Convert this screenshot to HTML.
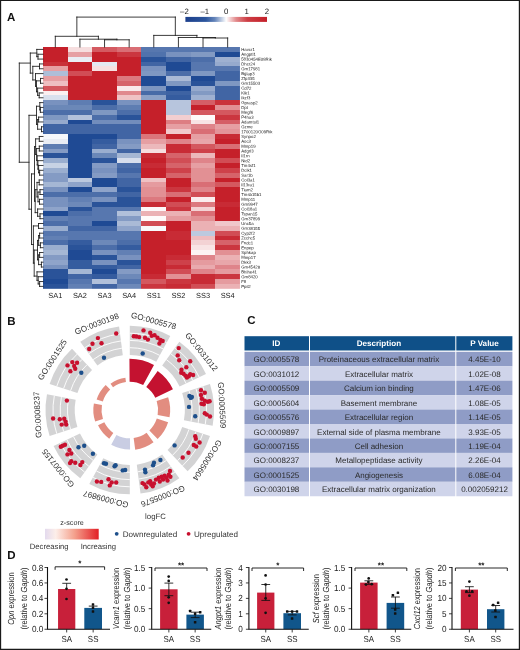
<!DOCTYPE html>
<html lang="en"><head><meta charset="utf-8"><title>Figure</title>
<style>
html,body{margin:0;padding:0;background:#fff;}
body{width:520px;height:650px;overflow:hidden;font-family:"Liberation Sans", sans-serif;}
svg{display:block}
text{white-space:pre;text-rendering:geometricPrecision}
</style></head><body>
<svg width="520" height="650" viewBox="0 0 520 650">
<rect width="520" height="650" fill="#fff"/>
<g shape-rendering="crispEdges">
<rect x="43.00" y="47.00" width="24.92" height="5.14" fill="#c5202a"/>
<rect x="67.62" y="47.00" width="24.92" height="5.14" fill="#f6dedf"/>
<rect x="92.24" y="47.00" width="24.92" height="5.14" fill="#d45a61"/>
<rect x="116.86" y="47.00" width="24.92" height="5.14" fill="#d96e75"/>
<rect x="141.48" y="47.00" width="24.92" height="5.14" fill="#5777af"/>
<rect x="166.10" y="47.00" width="24.92" height="5.14" fill="#5777af"/>
<rect x="190.72" y="47.00" width="24.92" height="5.14" fill="#5777af"/>
<rect x="215.34" y="47.00" width="24.92" height="5.14" fill="#5777af"/>
<rect x="43.00" y="51.84" width="24.92" height="5.14" fill="#c5202a"/>
<rect x="67.62" y="51.84" width="24.92" height="5.14" fill="#e69fa3"/>
<rect x="92.24" y="51.84" width="24.92" height="5.14" fill="#c5202a"/>
<rect x="116.86" y="51.84" width="24.92" height="5.14" fill="#cb363f"/>
<rect x="141.48" y="51.84" width="24.92" height="5.14" fill="#5072ac"/>
<rect x="166.10" y="51.84" width="24.92" height="5.14" fill="#7992bf"/>
<rect x="190.72" y="51.84" width="24.92" height="5.14" fill="#829ac3"/>
<rect x="215.34" y="51.84" width="24.92" height="5.14" fill="#1f4a94"/>
<rect x="43.00" y="56.67" width="24.92" height="5.14" fill="#c5202a"/>
<rect x="67.62" y="56.67" width="24.92" height="5.14" fill="#e9edf4"/>
<rect x="92.24" y="56.67" width="24.92" height="5.14" fill="#c5202a"/>
<rect x="116.86" y="56.67" width="24.92" height="5.14" fill="#c5202a"/>
<rect x="141.48" y="56.67" width="24.92" height="5.14" fill="#2a5399"/>
<rect x="166.10" y="56.67" width="24.92" height="5.14" fill="#4165a4"/>
<rect x="190.72" y="56.67" width="24.92" height="5.14" fill="#4c6ea9"/>
<rect x="215.34" y="56.67" width="24.92" height="5.14" fill="#9fb1d1"/>
<rect x="43.00" y="61.51" width="24.92" height="5.14" fill="#c93039"/>
<rect x="67.62" y="61.51" width="24.92" height="5.14" fill="#c5202a"/>
<rect x="92.24" y="61.51" width="24.92" height="5.14" fill="#e4e9f2"/>
<rect x="116.86" y="61.51" width="24.92" height="5.14" fill="#c5202a"/>
<rect x="141.48" y="61.51" width="24.92" height="5.14" fill="#4165a4"/>
<rect x="166.10" y="61.51" width="24.92" height="5.14" fill="#1f4a94"/>
<rect x="190.72" y="61.51" width="24.92" height="5.14" fill="#5777af"/>
<rect x="215.34" y="61.51" width="24.92" height="5.14" fill="#96aacd"/>
<rect x="43.00" y="66.34" width="24.92" height="5.14" fill="#e69fa3"/>
<rect x="67.62" y="66.34" width="24.92" height="5.14" fill="#c5202a"/>
<rect x="92.24" y="66.34" width="24.92" height="5.14" fill="#f7e0e1"/>
<rect x="116.86" y="66.34" width="24.92" height="5.14" fill="#c5202a"/>
<rect x="141.48" y="66.34" width="24.92" height="5.14" fill="#7992bf"/>
<rect x="166.10" y="66.34" width="24.92" height="5.14" fill="#1f4a94"/>
<rect x="190.72" y="66.34" width="24.92" height="5.14" fill="#5777af"/>
<rect x="215.34" y="66.34" width="24.92" height="5.14" fill="#5777af"/>
<rect x="43.00" y="71.18" width="24.92" height="5.14" fill="#aebed8"/>
<rect x="67.62" y="71.18" width="24.92" height="5.14" fill="#d14d55"/>
<rect x="92.24" y="71.18" width="24.92" height="5.14" fill="#c5202a"/>
<rect x="116.86" y="71.18" width="24.92" height="5.14" fill="#c5202a"/>
<rect x="141.48" y="71.18" width="24.92" height="5.14" fill="#7f98c2"/>
<rect x="166.10" y="71.18" width="24.92" height="5.14" fill="#4c6ea9"/>
<rect x="190.72" y="71.18" width="24.92" height="5.14" fill="#7f98c2"/>
<rect x="215.34" y="71.18" width="24.92" height="5.14" fill="#4165a4"/>
<rect x="43.00" y="76.02" width="24.92" height="5.14" fill="#e69fa3"/>
<rect x="67.62" y="76.02" width="24.92" height="5.14" fill="#c5202a"/>
<rect x="92.24" y="76.02" width="24.92" height="5.14" fill="#c5202a"/>
<rect x="116.86" y="76.02" width="24.92" height="5.14" fill="#dc797f"/>
<rect x="141.48" y="76.02" width="24.92" height="5.14" fill="#1f4a94"/>
<rect x="166.10" y="76.02" width="24.92" height="5.14" fill="#aabad6"/>
<rect x="190.72" y="76.02" width="24.92" height="5.14" fill="#1f4a94"/>
<rect x="215.34" y="76.02" width="24.92" height="5.14" fill="#4165a4"/>
<rect x="43.00" y="80.85" width="24.92" height="5.14" fill="#eebec1"/>
<rect x="67.62" y="80.85" width="24.92" height="5.14" fill="#c5202a"/>
<rect x="92.24" y="80.85" width="24.92" height="5.14" fill="#c5202a"/>
<rect x="116.86" y="80.85" width="24.92" height="5.14" fill="#d6636a"/>
<rect x="141.48" y="80.85" width="24.92" height="5.14" fill="#1f4a94"/>
<rect x="166.10" y="80.85" width="24.92" height="5.14" fill="#7f98c2"/>
<rect x="190.72" y="80.85" width="24.92" height="5.14" fill="#2a5399"/>
<rect x="215.34" y="80.85" width="24.92" height="5.14" fill="#7f98c2"/>
<rect x="43.00" y="85.69" width="24.92" height="5.14" fill="#d4585f"/>
<rect x="67.62" y="85.69" width="24.92" height="5.14" fill="#c5202a"/>
<rect x="92.24" y="85.69" width="24.92" height="5.14" fill="#c5202a"/>
<rect x="116.86" y="85.69" width="24.92" height="5.14" fill="#f9e9ea"/>
<rect x="141.48" y="85.69" width="24.92" height="5.14" fill="#7d96c1"/>
<rect x="166.10" y="85.69" width="24.92" height="5.14" fill="#1f4a94"/>
<rect x="190.72" y="85.69" width="24.92" height="5.14" fill="#96aacd"/>
<rect x="215.34" y="85.69" width="24.92" height="5.14" fill="#4165a4"/>
<rect x="43.00" y="90.52" width="24.92" height="5.14" fill="#fbeff0"/>
<rect x="67.62" y="90.52" width="24.92" height="5.14" fill="#c5202a"/>
<rect x="92.24" y="90.52" width="24.92" height="5.14" fill="#c5202a"/>
<rect x="116.86" y="90.52" width="24.92" height="5.14" fill="#e0898e"/>
<rect x="141.48" y="90.52" width="24.92" height="5.14" fill="#476ba7"/>
<rect x="166.10" y="90.52" width="24.92" height="5.14" fill="#3e63a3"/>
<rect x="190.72" y="90.52" width="24.92" height="5.14" fill="#829ac3"/>
<rect x="215.34" y="90.52" width="24.92" height="5.14" fill="#4165a4"/>
<rect x="43.00" y="95.36" width="24.92" height="5.14" fill="#d9e0ed"/>
<rect x="67.62" y="95.36" width="24.92" height="5.14" fill="#c5202a"/>
<rect x="92.24" y="95.36" width="24.92" height="5.14" fill="#c5202a"/>
<rect x="116.86" y="95.36" width="24.92" height="5.14" fill="#efc3c5"/>
<rect x="141.48" y="95.36" width="24.92" height="5.14" fill="#8ba1c7"/>
<rect x="166.10" y="95.36" width="24.92" height="5.14" fill="#355c9f"/>
<rect x="190.72" y="95.36" width="24.92" height="5.14" fill="#9fb1d1"/>
<rect x="215.34" y="95.36" width="24.92" height="5.14" fill="#4165a4"/>
<rect x="43.00" y="100.20" width="24.92" height="5.14" fill="#7992bf"/>
<rect x="67.62" y="100.20" width="24.92" height="5.14" fill="#5e7db2"/>
<rect x="92.24" y="100.20" width="24.92" height="5.14" fill="#2a5399"/>
<rect x="116.86" y="100.20" width="24.92" height="5.14" fill="#7992bf"/>
<rect x="141.48" y="100.20" width="24.92" height="5.14" fill="#c5202a"/>
<rect x="166.10" y="100.20" width="24.92" height="5.14" fill="#b7c5dd"/>
<rect x="190.72" y="100.20" width="24.92" height="5.14" fill="#d55e66"/>
<rect x="215.34" y="100.20" width="24.92" height="5.14" fill="#ca323b"/>
<rect x="43.00" y="105.03" width="24.92" height="5.14" fill="#6b88b8"/>
<rect x="67.62" y="105.03" width="24.92" height="5.14" fill="#6b88b8"/>
<rect x="92.24" y="105.03" width="24.92" height="5.14" fill="#4c6ea9"/>
<rect x="116.86" y="105.03" width="24.92" height="5.14" fill="#5e7db2"/>
<rect x="141.48" y="105.03" width="24.92" height="5.14" fill="#c5202a"/>
<rect x="166.10" y="105.03" width="24.92" height="5.14" fill="#b7c5dd"/>
<rect x="190.72" y="105.03" width="24.92" height="5.14" fill="#c5202a"/>
<rect x="215.34" y="105.03" width="24.92" height="5.14" fill="#e29094"/>
<rect x="43.00" y="109.87" width="24.92" height="5.14" fill="#4c6ea9"/>
<rect x="67.62" y="109.87" width="24.92" height="5.14" fill="#4c6ea9"/>
<rect x="92.24" y="109.87" width="24.92" height="5.14" fill="#7f98c2"/>
<rect x="116.86" y="109.87" width="24.92" height="5.14" fill="#4c6ea9"/>
<rect x="141.48" y="109.87" width="24.92" height="5.14" fill="#c5202a"/>
<rect x="166.10" y="109.87" width="24.92" height="5.14" fill="#b7c5dd"/>
<rect x="190.72" y="109.87" width="24.92" height="5.14" fill="#d4585f"/>
<rect x="215.34" y="109.87" width="24.92" height="5.14" fill="#d4585f"/>
<rect x="43.00" y="114.70" width="24.92" height="5.14" fill="#7f98c2"/>
<rect x="67.62" y="114.70" width="24.92" height="5.14" fill="#b3c1db"/>
<rect x="92.24" y="114.70" width="24.92" height="5.14" fill="#4c6ea9"/>
<rect x="116.86" y="114.70" width="24.92" height="5.14" fill="#2a5399"/>
<rect x="141.48" y="114.70" width="24.92" height="5.14" fill="#c5202a"/>
<rect x="166.10" y="114.70" width="24.92" height="5.14" fill="#f2ced0"/>
<rect x="190.72" y="114.70" width="24.92" height="5.14" fill="#fefbfb"/>
<rect x="215.34" y="114.70" width="24.92" height="5.14" fill="#cb363f"/>
<rect x="43.00" y="119.54" width="24.92" height="5.14" fill="#96aacd"/>
<rect x="67.62" y="119.54" width="24.92" height="5.14" fill="#1f4a94"/>
<rect x="92.24" y="119.54" width="24.92" height="5.14" fill="#728dbc"/>
<rect x="116.86" y="119.54" width="24.92" height="5.14" fill="#728dbc"/>
<rect x="141.48" y="119.54" width="24.92" height="5.14" fill="#c5202a"/>
<rect x="166.10" y="119.54" width="24.92" height="5.14" fill="#dd7e83"/>
<rect x="190.72" y="119.54" width="24.92" height="5.14" fill="#f8e4e5"/>
<rect x="215.34" y="119.54" width="24.92" height="5.14" fill="#d55e66"/>
<rect x="43.00" y="124.38" width="24.92" height="5.14" fill="#4165a4"/>
<rect x="67.62" y="124.38" width="24.92" height="5.14" fill="#4165a4"/>
<rect x="92.24" y="124.38" width="24.92" height="5.14" fill="#4165a4"/>
<rect x="116.86" y="124.38" width="24.92" height="5.14" fill="#4165a4"/>
<rect x="141.48" y="124.38" width="24.92" height="5.14" fill="#c5202a"/>
<rect x="166.10" y="124.38" width="24.92" height="5.14" fill="#e69fa3"/>
<rect x="190.72" y="124.38" width="24.92" height="5.14" fill="#df848a"/>
<rect x="215.34" y="124.38" width="24.92" height="5.14" fill="#e69fa3"/>
<rect x="43.00" y="129.21" width="24.92" height="5.14" fill="#4165a4"/>
<rect x="67.62" y="129.21" width="24.92" height="5.14" fill="#4165a4"/>
<rect x="92.24" y="129.21" width="24.92" height="5.14" fill="#4165a4"/>
<rect x="116.86" y="129.21" width="24.92" height="5.14" fill="#4165a4"/>
<rect x="141.48" y="129.21" width="24.92" height="5.14" fill="#c5202a"/>
<rect x="166.10" y="129.21" width="24.92" height="5.14" fill="#f1c9cc"/>
<rect x="190.72" y="129.21" width="24.92" height="5.14" fill="#d96e75"/>
<rect x="215.34" y="129.21" width="24.92" height="5.14" fill="#e39499"/>
<rect x="43.00" y="134.05" width="24.92" height="5.14" fill="#f6f8fb"/>
<rect x="67.62" y="134.05" width="24.92" height="5.14" fill="#1f4a94"/>
<rect x="92.24" y="134.05" width="24.92" height="5.14" fill="#1f4a94"/>
<rect x="116.86" y="134.05" width="24.92" height="5.14" fill="#4165a4"/>
<rect x="141.48" y="134.05" width="24.92" height="5.14" fill="#db757b"/>
<rect x="166.10" y="134.05" width="24.92" height="5.14" fill="#c5202a"/>
<rect x="190.72" y="134.05" width="24.92" height="5.14" fill="#e69fa3"/>
<rect x="215.34" y="134.05" width="24.92" height="5.14" fill="#c82b35"/>
<rect x="43.00" y="138.88" width="24.92" height="5.14" fill="#e9edf4"/>
<rect x="67.62" y="138.88" width="24.92" height="5.14" fill="#1f4a94"/>
<rect x="92.24" y="138.88" width="24.92" height="5.14" fill="#355c9f"/>
<rect x="116.86" y="138.88" width="24.92" height="5.14" fill="#7992bf"/>
<rect x="141.48" y="138.88" width="24.92" height="5.14" fill="#e69fa3"/>
<rect x="166.10" y="138.88" width="24.92" height="5.14" fill="#df848a"/>
<rect x="190.72" y="138.88" width="24.92" height="5.14" fill="#e8a6aa"/>
<rect x="215.34" y="138.88" width="24.92" height="5.14" fill="#c5202a"/>
<rect x="43.00" y="143.72" width="24.92" height="5.14" fill="#5e7db2"/>
<rect x="67.62" y="143.72" width="24.92" height="5.14" fill="#1f4a94"/>
<rect x="92.24" y="143.72" width="24.92" height="5.14" fill="#4165a4"/>
<rect x="116.86" y="143.72" width="24.92" height="5.14" fill="#849bc4"/>
<rect x="141.48" y="143.72" width="24.92" height="5.14" fill="#ecb8bb"/>
<rect x="166.10" y="143.72" width="24.92" height="5.14" fill="#c82b35"/>
<rect x="190.72" y="143.72" width="24.92" height="5.14" fill="#d4585f"/>
<rect x="215.34" y="143.72" width="24.92" height="5.14" fill="#d96e75"/>
<rect x="43.00" y="148.56" width="24.92" height="5.14" fill="#849bc4"/>
<rect x="67.62" y="148.56" width="24.92" height="5.14" fill="#1f4a94"/>
<rect x="92.24" y="148.56" width="24.92" height="5.14" fill="#9aaecf"/>
<rect x="116.86" y="148.56" width="24.92" height="5.14" fill="#4165a4"/>
<rect x="141.48" y="148.56" width="24.92" height="5.14" fill="#f6dedf"/>
<rect x="166.10" y="148.56" width="24.92" height="5.14" fill="#c82b35"/>
<rect x="190.72" y="148.56" width="24.92" height="5.14" fill="#ce414a"/>
<rect x="215.34" y="148.56" width="24.92" height="5.14" fill="#c5202a"/>
<rect x="43.00" y="153.39" width="24.92" height="5.14" fill="#2a5399"/>
<rect x="67.62" y="153.39" width="24.92" height="5.14" fill="#1f4a94"/>
<rect x="92.24" y="153.39" width="24.92" height="5.14" fill="#6b88b8"/>
<rect x="116.86" y="153.39" width="24.92" height="5.14" fill="#a5b7d4"/>
<rect x="141.48" y="153.39" width="24.92" height="5.14" fill="#c82b35"/>
<rect x="166.10" y="153.39" width="24.92" height="5.14" fill="#d6636a"/>
<rect x="190.72" y="153.39" width="24.92" height="5.14" fill="#ecb8bb"/>
<rect x="215.34" y="153.39" width="24.92" height="5.14" fill="#c5202a"/>
<rect x="43.00" y="158.23" width="24.92" height="5.14" fill="#9aaecf"/>
<rect x="67.62" y="158.23" width="24.92" height="5.14" fill="#1f4a94"/>
<rect x="92.24" y="158.23" width="24.92" height="5.14" fill="#2a5399"/>
<rect x="116.86" y="158.23" width="24.92" height="5.14" fill="#d7deec"/>
<rect x="141.48" y="158.23" width="24.92" height="5.14" fill="#c5202a"/>
<rect x="166.10" y="158.23" width="24.92" height="5.14" fill="#d14d55"/>
<rect x="190.72" y="158.23" width="24.92" height="5.14" fill="#df848a"/>
<rect x="215.34" y="158.23" width="24.92" height="5.14" fill="#d14d55"/>
<rect x="43.00" y="163.06" width="24.92" height="5.14" fill="#c7d2e4"/>
<rect x="67.62" y="163.06" width="24.92" height="5.14" fill="#1f4a94"/>
<rect x="92.24" y="163.06" width="24.92" height="5.14" fill="#849bc4"/>
<rect x="116.86" y="163.06" width="24.92" height="5.14" fill="#4c6ea9"/>
<rect x="141.48" y="163.06" width="24.92" height="5.14" fill="#c82b35"/>
<rect x="166.10" y="163.06" width="24.92" height="5.14" fill="#d6636a"/>
<rect x="190.72" y="163.06" width="24.92" height="5.14" fill="#e69fa3"/>
<rect x="215.34" y="163.06" width="24.92" height="5.14" fill="#c5202a"/>
<rect x="43.00" y="167.90" width="24.92" height="5.14" fill="#9aaecf"/>
<rect x="67.62" y="167.90" width="24.92" height="5.14" fill="#1f4a94"/>
<rect x="92.24" y="167.90" width="24.92" height="5.14" fill="#7992bf"/>
<rect x="116.86" y="167.90" width="24.92" height="5.14" fill="#4165a4"/>
<rect x="141.48" y="167.90" width="24.92" height="5.14" fill="#c5202a"/>
<rect x="166.10" y="167.90" width="24.92" height="5.14" fill="#ce414a"/>
<rect x="190.72" y="167.90" width="24.92" height="5.14" fill="#e29094"/>
<rect x="215.34" y="167.90" width="24.92" height="5.14" fill="#ce414a"/>
<rect x="43.00" y="172.74" width="24.92" height="5.14" fill="#849bc4"/>
<rect x="67.62" y="172.74" width="24.92" height="5.14" fill="#1f4a94"/>
<rect x="92.24" y="172.74" width="24.92" height="5.14" fill="#849bc4"/>
<rect x="116.86" y="172.74" width="24.92" height="5.14" fill="#5777af"/>
<rect x="141.48" y="172.74" width="24.92" height="5.14" fill="#c5202a"/>
<rect x="166.10" y="172.74" width="24.92" height="5.14" fill="#d6636a"/>
<rect x="190.72" y="172.74" width="24.92" height="5.14" fill="#e29094"/>
<rect x="215.34" y="172.74" width="24.92" height="5.14" fill="#d6636a"/>
<rect x="43.00" y="177.57" width="24.92" height="5.14" fill="#849bc4"/>
<rect x="67.62" y="177.57" width="24.92" height="5.14" fill="#bcc9df"/>
<rect x="92.24" y="177.57" width="24.92" height="5.14" fill="#1f4a94"/>
<rect x="116.86" y="177.57" width="24.92" height="5.14" fill="#4165a4"/>
<rect x="141.48" y="177.57" width="24.92" height="5.14" fill="#efc1c3"/>
<rect x="166.10" y="177.57" width="24.92" height="5.14" fill="#c5202a"/>
<rect x="190.72" y="177.57" width="24.92" height="5.14" fill="#e29094"/>
<rect x="215.34" y="177.57" width="24.92" height="5.14" fill="#c5202a"/>
<rect x="43.00" y="182.41" width="24.92" height="5.14" fill="#a5b7d4"/>
<rect x="67.62" y="182.41" width="24.92" height="5.14" fill="#8fa4ca"/>
<rect x="92.24" y="182.41" width="24.92" height="5.14" fill="#1f4a94"/>
<rect x="116.86" y="182.41" width="24.92" height="5.14" fill="#4165a4"/>
<rect x="141.48" y="182.41" width="24.92" height="5.14" fill="#e59b9f"/>
<rect x="166.10" y="182.41" width="24.92" height="5.14" fill="#c5202a"/>
<rect x="190.72" y="182.41" width="24.92" height="5.14" fill="#d96e75"/>
<rect x="215.34" y="182.41" width="24.92" height="5.14" fill="#d4585f"/>
<rect x="43.00" y="187.24" width="24.92" height="5.14" fill="#7992bf"/>
<rect x="67.62" y="187.24" width="24.92" height="5.14" fill="#1f4a94"/>
<rect x="92.24" y="187.24" width="24.92" height="5.14" fill="#8fa4ca"/>
<rect x="116.86" y="187.24" width="24.92" height="5.14" fill="#2a5399"/>
<rect x="141.48" y="187.24" width="24.92" height="5.14" fill="#e29094"/>
<rect x="166.10" y="187.24" width="24.92" height="5.14" fill="#cb363f"/>
<rect x="190.72" y="187.24" width="24.92" height="5.14" fill="#df848a"/>
<rect x="215.34" y="187.24" width="24.92" height="5.14" fill="#c5202a"/>
<rect x="43.00" y="192.08" width="24.92" height="5.14" fill="#4c6ea9"/>
<rect x="67.62" y="192.08" width="24.92" height="5.14" fill="#4c6ea9"/>
<rect x="92.24" y="192.08" width="24.92" height="5.14" fill="#4c6ea9"/>
<rect x="116.86" y="192.08" width="24.92" height="5.14" fill="#4165a4"/>
<rect x="141.48" y="192.08" width="24.92" height="5.14" fill="#e29094"/>
<rect x="166.10" y="192.08" width="24.92" height="5.14" fill="#d96e75"/>
<rect x="190.72" y="192.08" width="24.92" height="5.14" fill="#d14d55"/>
<rect x="215.34" y="192.08" width="24.92" height="5.14" fill="#c5202a"/>
<rect x="43.00" y="196.92" width="24.92" height="5.14" fill="#7992bf"/>
<rect x="67.62" y="196.92" width="24.92" height="5.14" fill="#6280b4"/>
<rect x="92.24" y="196.92" width="24.92" height="5.14" fill="#7992bf"/>
<rect x="116.86" y="196.92" width="24.92" height="5.14" fill="#2a5399"/>
<rect x="141.48" y="196.92" width="24.92" height="5.14" fill="#dc797f"/>
<rect x="166.10" y="196.92" width="24.92" height="5.14" fill="#c5202a"/>
<rect x="190.72" y="196.92" width="24.92" height="5.14" fill="#faedee"/>
<rect x="215.34" y="196.92" width="24.92" height="5.14" fill="#c5202a"/>
<rect x="43.00" y="201.75" width="24.92" height="5.14" fill="#7992bf"/>
<rect x="67.62" y="201.75" width="24.92" height="5.14" fill="#6d89b9"/>
<rect x="92.24" y="201.75" width="24.92" height="5.14" fill="#2a5399"/>
<rect x="116.86" y="201.75" width="24.92" height="5.14" fill="#2a5399"/>
<rect x="141.48" y="201.75" width="24.92" height="5.14" fill="#c82b35"/>
<rect x="166.10" y="201.75" width="24.92" height="5.14" fill="#d14d55"/>
<rect x="190.72" y="201.75" width="24.92" height="5.14" fill="#dc797f"/>
<rect x="215.34" y="201.75" width="24.92" height="5.14" fill="#c82b35"/>
<rect x="43.00" y="206.59" width="24.92" height="5.14" fill="#8fa4ca"/>
<rect x="67.62" y="206.59" width="24.92" height="5.14" fill="#2a5399"/>
<rect x="92.24" y="206.59" width="24.92" height="5.14" fill="#5777af"/>
<rect x="116.86" y="206.59" width="24.92" height="5.14" fill="#5777af"/>
<rect x="141.48" y="206.59" width="24.92" height="5.14" fill="#fdf8f9"/>
<rect x="166.10" y="206.59" width="24.92" height="5.14" fill="#cb363f"/>
<rect x="190.72" y="206.59" width="24.92" height="5.14" fill="#f3d2d4"/>
<rect x="215.34" y="206.59" width="24.92" height="5.14" fill="#c5202a"/>
<rect x="43.00" y="211.42" width="24.92" height="5.14" fill="#1f4a94"/>
<rect x="67.62" y="211.42" width="24.92" height="5.14" fill="#4c6ea9"/>
<rect x="92.24" y="211.42" width="24.92" height="5.14" fill="#5777af"/>
<rect x="116.86" y="211.42" width="24.92" height="5.14" fill="#b1c0da"/>
<rect x="141.48" y="211.42" width="24.92" height="5.14" fill="#ebb1b4"/>
<rect x="166.10" y="211.42" width="24.92" height="5.14" fill="#ebb1b4"/>
<rect x="190.72" y="211.42" width="24.92" height="5.14" fill="#d96e75"/>
<rect x="215.34" y="211.42" width="24.92" height="5.14" fill="#c5202a"/>
<rect x="43.00" y="216.26" width="24.92" height="5.14" fill="#6280b4"/>
<rect x="67.62" y="216.26" width="24.92" height="5.14" fill="#5777af"/>
<rect x="92.24" y="216.26" width="24.92" height="5.14" fill="#5777af"/>
<rect x="116.86" y="216.26" width="24.92" height="5.14" fill="#849bc4"/>
<rect x="141.48" y="216.26" width="24.92" height="5.14" fill="#fefbfb"/>
<rect x="166.10" y="216.26" width="24.92" height="5.14" fill="#e59b9f"/>
<rect x="190.72" y="216.26" width="24.92" height="5.14" fill="#e29094"/>
<rect x="215.34" y="216.26" width="24.92" height="5.14" fill="#c5202a"/>
<rect x="43.00" y="221.10" width="24.92" height="5.14" fill="#4c6ea9"/>
<rect x="67.62" y="221.10" width="24.92" height="5.14" fill="#5777af"/>
<rect x="92.24" y="221.10" width="24.92" height="5.14" fill="#1f4a94"/>
<rect x="116.86" y="221.10" width="24.92" height="5.14" fill="#aabad6"/>
<rect x="141.48" y="221.10" width="24.92" height="5.14" fill="#d14d55"/>
<rect x="166.10" y="221.10" width="24.92" height="5.14" fill="#c5202a"/>
<rect x="190.72" y="221.10" width="24.92" height="5.14" fill="#ebb1b4"/>
<rect x="215.34" y="221.10" width="24.92" height="5.14" fill="#f0c7ca"/>
<rect x="43.00" y="225.93" width="24.92" height="5.14" fill="#9aaecf"/>
<rect x="67.62" y="225.93" width="24.92" height="5.14" fill="#4165a4"/>
<rect x="92.24" y="225.93" width="24.92" height="5.14" fill="#4165a4"/>
<rect x="116.86" y="225.93" width="24.92" height="5.14" fill="#8fa4ca"/>
<rect x="141.48" y="225.93" width="24.92" height="5.14" fill="#f8fafc"/>
<rect x="166.10" y="225.93" width="24.92" height="5.14" fill="#c5202a"/>
<rect x="190.72" y="225.93" width="24.92" height="5.14" fill="#ebb1b4"/>
<rect x="215.34" y="225.93" width="24.92" height="5.14" fill="#ebb1b4"/>
<rect x="43.00" y="230.77" width="24.92" height="5.14" fill="#5777af"/>
<rect x="67.62" y="230.77" width="24.92" height="5.14" fill="#5777af"/>
<rect x="92.24" y="230.77" width="24.92" height="5.14" fill="#5777af"/>
<rect x="116.86" y="230.77" width="24.92" height="5.14" fill="#5777af"/>
<rect x="141.48" y="230.77" width="24.92" height="5.14" fill="#c5202a"/>
<rect x="166.10" y="230.77" width="24.92" height="5.14" fill="#c82b35"/>
<rect x="190.72" y="230.77" width="24.92" height="5.14" fill="#bcc9df"/>
<rect x="215.34" y="230.77" width="24.92" height="5.14" fill="#d14d55"/>
<rect x="43.00" y="235.60" width="24.92" height="5.14" fill="#6280b4"/>
<rect x="67.62" y="235.60" width="24.92" height="5.14" fill="#5777af"/>
<rect x="92.24" y="235.60" width="24.92" height="5.14" fill="#5777af"/>
<rect x="116.86" y="235.60" width="24.92" height="5.14" fill="#5777af"/>
<rect x="141.48" y="235.60" width="24.92" height="5.14" fill="#c5202a"/>
<rect x="166.10" y="235.60" width="24.92" height="5.14" fill="#c82b35"/>
<rect x="190.72" y="235.60" width="24.92" height="5.14" fill="#eebcbf"/>
<rect x="215.34" y="235.60" width="24.92" height="5.14" fill="#c82b35"/>
<rect x="43.00" y="240.44" width="24.92" height="5.14" fill="#4c6ea9"/>
<rect x="67.62" y="240.44" width="24.92" height="5.14" fill="#355c9f"/>
<rect x="92.24" y="240.44" width="24.92" height="5.14" fill="#6d89b9"/>
<rect x="116.86" y="240.44" width="24.92" height="5.14" fill="#4c6ea9"/>
<rect x="141.48" y="240.44" width="24.92" height="5.14" fill="#c5202a"/>
<rect x="166.10" y="240.44" width="24.92" height="5.14" fill="#c5202a"/>
<rect x="190.72" y="240.44" width="24.92" height="5.14" fill="#f3d2d4"/>
<rect x="215.34" y="240.44" width="24.92" height="5.14" fill="#d6636a"/>
<rect x="43.00" y="245.28" width="24.92" height="5.14" fill="#9aaecf"/>
<rect x="67.62" y="245.28" width="24.92" height="5.14" fill="#2a5399"/>
<rect x="92.24" y="245.28" width="24.92" height="5.14" fill="#4c6ea9"/>
<rect x="116.86" y="245.28" width="24.92" height="5.14" fill="#355c9f"/>
<rect x="141.48" y="245.28" width="24.92" height="5.14" fill="#c5202a"/>
<rect x="166.10" y="245.28" width="24.92" height="5.14" fill="#c5202a"/>
<rect x="190.72" y="245.28" width="24.92" height="5.14" fill="#f8e4e5"/>
<rect x="215.34" y="245.28" width="24.92" height="5.14" fill="#cb363f"/>
<rect x="43.00" y="250.11" width="24.92" height="5.14" fill="#a5b7d4"/>
<rect x="67.62" y="250.11" width="24.92" height="5.14" fill="#1f4a94"/>
<rect x="92.24" y="250.11" width="24.92" height="5.14" fill="#7992bf"/>
<rect x="116.86" y="250.11" width="24.92" height="5.14" fill="#6280b4"/>
<rect x="141.48" y="250.11" width="24.92" height="5.14" fill="#c5202a"/>
<rect x="166.10" y="250.11" width="24.92" height="5.14" fill="#c5202a"/>
<rect x="190.72" y="250.11" width="24.92" height="5.14" fill="#fcf4f4"/>
<rect x="215.34" y="250.11" width="24.92" height="5.14" fill="#e29094"/>
<rect x="43.00" y="254.95" width="24.92" height="5.14" fill="#849bc4"/>
<rect x="67.62" y="254.95" width="24.92" height="5.14" fill="#1f4a94"/>
<rect x="92.24" y="254.95" width="24.92" height="5.14" fill="#2a5399"/>
<rect x="116.86" y="254.95" width="24.92" height="5.14" fill="#7992bf"/>
<rect x="141.48" y="254.95" width="24.92" height="5.14" fill="#c5202a"/>
<rect x="166.10" y="254.95" width="24.92" height="5.14" fill="#c82b35"/>
<rect x="190.72" y="254.95" width="24.92" height="5.14" fill="#df848a"/>
<rect x="215.34" y="254.95" width="24.92" height="5.14" fill="#ebb1b4"/>
<rect x="43.00" y="259.78" width="24.92" height="5.14" fill="#8fa4ca"/>
<rect x="67.62" y="259.78" width="24.92" height="5.14" fill="#355c9f"/>
<rect x="92.24" y="259.78" width="24.92" height="5.14" fill="#7992bf"/>
<rect x="116.86" y="259.78" width="24.92" height="5.14" fill="#2a5399"/>
<rect x="141.48" y="259.78" width="24.92" height="5.14" fill="#c5202a"/>
<rect x="166.10" y="259.78" width="24.92" height="5.14" fill="#ce414a"/>
<rect x="190.72" y="259.78" width="24.92" height="5.14" fill="#e59b9f"/>
<rect x="215.34" y="259.78" width="24.92" height="5.14" fill="#e8a6aa"/>
<rect x="43.00" y="264.62" width="24.92" height="5.14" fill="#7992bf"/>
<rect x="67.62" y="264.62" width="24.92" height="5.14" fill="#355c9f"/>
<rect x="92.24" y="264.62" width="24.92" height="5.14" fill="#355c9f"/>
<rect x="116.86" y="264.62" width="24.92" height="5.14" fill="#4165a4"/>
<rect x="141.48" y="264.62" width="24.92" height="5.14" fill="#c5202a"/>
<rect x="166.10" y="264.62" width="24.92" height="5.14" fill="#c82b35"/>
<rect x="190.72" y="264.62" width="24.92" height="5.14" fill="#e9aaae"/>
<rect x="215.34" y="264.62" width="24.92" height="5.14" fill="#df848a"/>
<rect x="43.00" y="269.46" width="24.92" height="5.14" fill="#2a5399"/>
<rect x="67.62" y="269.46" width="24.92" height="5.14" fill="#a5b7d4"/>
<rect x="92.24" y="269.46" width="24.92" height="5.14" fill="#1f4a94"/>
<rect x="116.86" y="269.46" width="24.92" height="5.14" fill="#849bc4"/>
<rect x="141.48" y="269.46" width="24.92" height="5.14" fill="#c5202a"/>
<rect x="166.10" y="269.46" width="24.92" height="5.14" fill="#d14d55"/>
<rect x="190.72" y="269.46" width="24.92" height="5.14" fill="#df848a"/>
<rect x="215.34" y="269.46" width="24.92" height="5.14" fill="#e59b9f"/>
<rect x="43.00" y="274.29" width="24.92" height="5.14" fill="#2a5399"/>
<rect x="67.62" y="274.29" width="24.92" height="5.14" fill="#4165a4"/>
<rect x="92.24" y="274.29" width="24.92" height="5.14" fill="#355c9f"/>
<rect x="116.86" y="274.29" width="24.92" height="5.14" fill="#6d89b9"/>
<rect x="141.48" y="274.29" width="24.92" height="5.14" fill="#c82b35"/>
<rect x="166.10" y="274.29" width="24.92" height="5.14" fill="#e29094"/>
<rect x="190.72" y="274.29" width="24.92" height="5.14" fill="#c82b35"/>
<rect x="215.34" y="274.29" width="24.92" height="5.14" fill="#cb363f"/>
<rect x="43.00" y="279.13" width="24.92" height="5.14" fill="#1f4a94"/>
<rect x="67.62" y="279.13" width="24.92" height="5.14" fill="#5777af"/>
<rect x="92.24" y="279.13" width="24.92" height="5.14" fill="#b1c0da"/>
<rect x="116.86" y="279.13" width="24.92" height="5.14" fill="#5777af"/>
<rect x="141.48" y="279.13" width="24.92" height="5.14" fill="#d4585f"/>
<rect x="166.10" y="279.13" width="24.92" height="5.14" fill="#cb363f"/>
<rect x="190.72" y="279.13" width="24.92" height="5.14" fill="#c82b35"/>
<rect x="215.34" y="279.13" width="24.92" height="5.14" fill="#e59b9f"/>
<rect x="43.00" y="283.96" width="24.92" height="5.14" fill="#2a5399"/>
<rect x="67.62" y="283.96" width="24.92" height="5.14" fill="#6280b4"/>
<rect x="92.24" y="283.96" width="24.92" height="5.14" fill="#4165a4"/>
<rect x="116.86" y="283.96" width="24.92" height="5.14" fill="#6d89b9"/>
<rect x="141.48" y="283.96" width="24.92" height="5.14" fill="#cb363f"/>
<rect x="166.10" y="283.96" width="24.92" height="5.14" fill="#c82b35"/>
<rect x="190.72" y="283.96" width="24.92" height="5.14" fill="#d14d55"/>
<rect x="215.34" y="283.96" width="24.92" height="5.14" fill="#ebb1b4"/>
</g>
<rect x="239.96" y="46.0" width="1" height="244.80" fill="#fff"/>
<rect x="42.0" y="288.80" width="199.96" height="1" fill="#fff"/>
<g font-family='"Liberation Sans", sans-serif' font-size="43" fill="#1a1a1a" transform="scale(0.1)">
<text x="2412" y="509.2" transform="rotate(0.3 2412 509.2)">Havcr1</text>
<text x="2412" y="557.5" transform="rotate(0.3 2412 557.5)">Angptl1</text>
<text x="2412" y="605.9" transform="rotate(0.3 2412 605.9)">5830454E08Rik</text>
<text x="2412" y="654.3" transform="rotate(0.3 2412 654.3)">Dhcr24</text>
<text x="2412" y="702.6" transform="rotate(0.3 2412 702.6)">Gm17981</text>
<text x="2412" y="751.0" transform="rotate(0.3 2412 751.0)">Bglap3</text>
<text x="2412" y="799.3" transform="rotate(0.3 2412 799.3)">Zfp335</text>
<text x="2412" y="847.7" transform="rotate(0.3 2412 847.7)">Gm15503</text>
<text x="2412" y="896.1" transform="rotate(0.3 2412 896.1)">Cd72</text>
<text x="2412" y="944.4" transform="rotate(0.3 2412 944.4)">Klk1</text>
<text x="2412" y="992.8" transform="rotate(0.3 2412 992.8)">Ikzf3</text>
<text x="2412" y="1041.1" transform="rotate(0.3 2412 1041.1)">Gprasp2</text>
<text x="2412" y="1089.5" transform="rotate(0.3 2412 1089.5)">Dpt</text>
<text x="2412" y="1137.9" transform="rotate(0.3 2412 1137.9)">Megf6</text>
<text x="2412" y="1186.2" transform="rotate(0.3 2412 1186.2)">P4ha3</text>
<text x="2412" y="1234.6" transform="rotate(0.3 2412 1234.6)">Adamtsl1</text>
<text x="2412" y="1282.9" transform="rotate(0.3 2412 1282.9)">Gzme</text>
<text x="2412" y="1331.3" transform="rotate(0.3 2412 1331.3)">1700120O09Rik</text>
<text x="2412" y="1379.7" transform="rotate(0.3 2412 1379.7)">Synpo2</text>
<text x="2412" y="1428.0" transform="rotate(0.3 2412 1428.0)">Aoc3</text>
<text x="2412" y="1476.4" transform="rotate(0.3 2412 1476.4)">Mmp19</text>
<text x="2412" y="1524.7" transform="rotate(0.3 2412 1524.7)">Adgrl3</text>
<text x="2412" y="1573.1" transform="rotate(0.3 2412 1573.1)">Il1rn</text>
<text x="2412" y="1621.5" transform="rotate(0.3 2412 1621.5)">Nid2</text>
<text x="2412" y="1669.8" transform="rotate(0.3 2412 1669.8)">Tm4sf1</text>
<text x="2412" y="1718.2" transform="rotate(0.3 2412 1718.2)">Dclk1</text>
<text x="2412" y="1766.5" transform="rotate(0.3 2412 1766.5)">Sar1b</text>
<text x="2412" y="1814.9" transform="rotate(0.3 2412 1814.9)">Col3a1</text>
<text x="2412" y="1863.3" transform="rotate(0.3 2412 1863.3)">Il13ra1</text>
<text x="2412" y="1911.6" transform="rotate(0.3 2412 1911.6)">Tiam2</text>
<text x="2412" y="1960.0" transform="rotate(0.3 2412 1960.0)">Tmsb15b1</text>
<text x="2412" y="2008.3" transform="rotate(0.3 2412 2008.3)">Mmp11</text>
<text x="2412" y="2056.7" transform="rotate(0.3 2412 2056.7)">Gm9947</text>
<text x="2412" y="2105.1" transform="rotate(0.3 2412 2105.1)">Col18a1</text>
<text x="2412" y="2153.4" transform="rotate(0.3 2412 2153.4)">Tspan15</text>
<text x="2412" y="2201.8" transform="rotate(0.3 2412 2201.8)">Gm37899</text>
<text x="2412" y="2250.1" transform="rotate(0.3 2412 2250.1)">Unc5a</text>
<text x="2412" y="2298.5" transform="rotate(0.3 2412 2298.5)">Gm38155</text>
<text x="2412" y="2346.9" transform="rotate(0.3 2412 2346.9)">Cyp2f2</text>
<text x="2412" y="2395.2" transform="rotate(0.3 2412 2395.2)">Zcchc5</text>
<text x="2412" y="2443.6" transform="rotate(0.3 2412 2443.6)">Fndc1</text>
<text x="2412" y="2491.9" transform="rotate(0.3 2412 2491.9)">Enpep</text>
<text x="2412" y="2540.3" transform="rotate(0.3 2412 2540.3)">Sphkap</text>
<text x="2412" y="2588.7" transform="rotate(0.3 2412 2588.7)">Mmp17</text>
<text x="2412" y="2637.0" transform="rotate(0.3 2412 2637.0)">Dkk3</text>
<text x="2412" y="2685.4" transform="rotate(0.3 2412 2685.4)">Gm45428</text>
<text x="2412" y="2733.7" transform="rotate(0.3 2412 2733.7)">Bhlhe41</text>
<text x="2412" y="2782.1" transform="rotate(0.3 2412 2782.1)">Gm8420</text>
<text x="2412" y="2830.5" transform="rotate(0.3 2412 2830.5)">F8</text>
<text x="2412" y="2878.8" transform="rotate(0.3 2412 2878.8)">Ppil2</text>
</g>
<g font-family='"Liberation Sans", sans-serif' font-size="7.4" fill="#222" text-anchor="middle">
<text x="55.31" y="298.3">SA1</text>
<text x="79.93" y="298.3">SA2</text>
<text x="104.55" y="298.3">SA3</text>
<text x="129.17" y="298.3">SA4</text>
<text x="153.79" y="298.3">SS1</text>
<text x="178.41" y="298.3">SS2</text>
<text x="203.03" y="298.3">SS3</text>
<text x="227.65" y="298.3">SS4</text>
</g>
<defs><linearGradient id="cb" x1="0" x2="1" y1="0" y2="0"><stop offset="0" stop-color="#1c3f8c"/><stop offset="0.25" stop-color="#2c569d"/><stop offset="0.36" stop-color="#6585ba"/><stop offset="0.5" stop-color="#ffffff"/><stop offset="0.62" stop-color="#e28a8c"/><stop offset="0.76" stop-color="#cd3d44"/><stop offset="1" stop-color="#c4202a"/></linearGradient></defs>
<rect x="185.4" y="16.9" width="81.6" height="5" fill="url(#cb)"/>
<g font-family='"Liberation Sans", sans-serif' font-size="7.8" fill="#222" text-anchor="middle">
<text x="184.40" y="14.3">–2</text>
<text x="204.80" y="14.3">–1</text>
<text x="226.20" y="14.3">0</text>
<text x="246.60" y="14.3">1</text>
<text x="267.00" y="14.3">2</text>
</g>
<path d="M104.55 47.00L104.55 39.80M129.17 47.00L129.17 39.80M104.55 39.80L129.17 39.80M79.93 47.00L79.93 39.20M116.86 39.80L116.86 39.20M79.93 39.20L116.86 39.20M55.31 47.00L55.31 36.30M98.40 39.20L98.40 36.30M55.31 36.30L98.40 36.30M203.03 47.00L203.03 38.00M227.65 47.00L227.65 38.00M203.03 38.00L227.65 38.00M178.41 47.00L178.41 37.50M215.34 38.00L215.34 37.50M178.41 37.50L215.34 37.50M153.79 47.00L153.79 35.40M196.88 37.50L196.88 35.40M153.79 35.40L196.88 35.40M76.85 36.30L76.85 17.10M175.33 35.40L175.33 17.10M76.85 17.10L175.33 17.10M43.00 54.25L38.00 54.25M43.00 59.09L38.00 59.09M38.00 54.25L38.00 59.09M43.00 49.42L36.80 49.42M38.00 56.67L36.80 56.67M36.80 49.42L36.80 56.67M43.00 63.93L39.50 63.93M43.00 68.76L39.50 68.76M39.50 63.93L39.50 68.76M43.00 78.43L40.50 78.43M43.00 83.27L40.50 83.27M40.50 78.43L40.50 83.27M43.00 92.94L39.20 92.94M43.00 97.78L39.20 97.78M39.20 92.94L39.20 97.78M43.00 88.11L37.60 88.11M39.20 95.36L37.60 95.36M37.60 88.11L37.60 95.36M40.50 80.85L36.50 80.85M37.60 91.73L36.50 91.73M36.50 80.85L36.50 91.73M43.00 73.60L35.50 73.60M36.50 86.29L35.50 86.29M35.50 73.60L35.50 86.29M39.50 66.34L32.80 66.34M35.50 79.95L32.80 79.95M32.80 66.34L32.80 79.95M36.80 53.05L30.30 53.05M32.80 73.14L30.30 73.14M30.30 53.05L30.30 73.14M43.00 107.45L40.40 107.45M43.00 112.29L40.40 112.29M40.40 107.45L40.40 112.29M43.00 102.61L39.80 102.61M40.40 109.87L39.80 109.87M39.80 102.61L39.80 109.87M43.00 117.12L38.60 117.12M43.00 121.96L38.60 121.96M38.60 117.12L38.60 121.96M43.00 126.79L41.50 126.79M43.00 131.63L41.50 131.63M41.50 126.79L41.50 131.63M38.60 119.54L37.60 119.54M41.50 129.21L37.60 129.21M37.60 119.54L37.60 129.21M39.80 106.24L36.50 106.24M37.60 124.38L36.50 124.38M36.50 106.24L36.50 124.38M43.00 136.47L39.30 136.47M43.00 141.30L39.30 141.30M39.30 136.47L39.30 141.30M43.00 146.14L39.30 146.14M43.00 150.97L39.30 150.97M39.30 146.14L39.30 150.97M43.00 170.32L39.60 170.32M43.00 175.15L39.60 175.15M39.60 170.32L39.60 175.15M43.00 165.48L38.60 165.48M39.60 172.74L38.60 172.74M38.60 165.48L38.60 172.74M43.00 160.65L37.90 160.65M38.60 169.11L37.90 169.11M37.90 160.65L37.90 169.11M43.00 155.81L37.20 155.81M37.90 164.88L37.20 164.88M37.20 155.81L37.20 164.88M39.30 148.56L36.60 148.56M37.20 160.34L36.60 160.34M36.60 148.56L36.60 160.34M39.30 138.88L35.60 138.88M36.60 154.45L35.60 154.45M35.60 138.88L35.60 154.45M43.00 179.99L39.20 179.99M43.00 184.83L39.20 184.83M39.20 179.99L39.20 184.83M43.00 189.66L40.00 189.66M43.00 194.50L40.00 194.50M40.00 189.66L40.00 194.50M43.00 199.33L39.50 199.33M43.00 204.17L39.50 204.17M39.50 199.33L39.50 204.17M40.00 192.08L38.00 192.08M39.50 201.75L38.00 201.75M38.00 192.08L38.00 201.75M39.20 182.41L37.00 182.41M38.00 196.92L37.00 196.92M37.00 182.41L37.00 196.92M43.00 213.84L40.00 213.84M43.00 218.68L40.00 218.68M40.00 213.84L40.00 218.68M43.00 209.01L37.60 209.01M40.00 216.26L37.60 216.26M37.60 209.01L37.60 216.26M37.00 189.66L35.20 189.66M37.60 212.63L35.20 212.63M35.20 189.66L35.20 212.63M35.60 146.67L34.50 146.67M35.20 201.15L34.50 201.15M34.50 146.67L34.50 201.15M43.00 223.51L38.50 223.51M43.00 228.35L38.50 228.35M38.50 223.51L38.50 228.35M43.00 233.19L39.60 233.19M43.00 238.02L39.60 238.02M39.60 233.19L39.60 238.02M43.00 242.86L40.40 242.86M43.00 247.69L40.40 247.69M40.40 242.86L40.40 247.69M39.60 235.60L38.60 235.60M40.40 245.28L38.60 245.28M38.60 235.60L38.60 245.28M43.00 252.53L39.60 252.53M43.00 257.37L39.60 257.37M39.60 252.53L39.60 257.37M43.00 262.20L41.40 262.20M43.00 267.04L41.40 267.04M41.40 262.20L41.40 267.04M39.60 254.95L38.60 254.95M41.40 264.62L38.60 264.62M38.60 254.95L38.60 264.62M38.60 240.44L37.50 240.44M38.60 259.78L37.50 259.78M37.50 240.44L37.50 259.78M43.00 281.55L39.60 281.55M43.00 286.38L39.60 286.38M39.60 281.55L39.60 286.38M43.00 276.71L38.20 276.71M39.60 283.96L38.20 283.96M38.20 276.71L38.20 283.96M43.00 271.87L37.00 271.87M38.20 280.34L37.00 280.34M37.00 271.87L37.00 280.34M37.50 250.11L34.20 250.11M37.00 276.11L34.20 276.11M34.20 250.11L34.20 276.11M38.50 225.93L33.40 225.93M34.20 263.11L33.40 263.11M33.40 225.93L33.40 263.11M34.50 173.91L31.50 173.91M33.40 244.52L31.50 244.52M31.50 173.91L31.50 244.52M36.50 115.31L29.00 115.31M31.50 209.21L29.00 209.21M29.00 115.31L29.00 209.21M30.30 63.09L19.30 63.09M29.00 162.26L19.30 162.26M19.30 63.09L19.30 162.26" stroke="#1a1a1a" stroke-width="0.85" fill="none" stroke-linecap="square"/>
<g font-family='"Liberation Sans", sans-serif' font-weight="bold" font-size="11.5" fill="#111">
<text x="6.9" y="20.8">A</text>
<text x="7.2" y="324.5">B</text>
<text x="247.2" y="324.2">C</text>
<text x="7.2" y="558.8">D</text>
</g>
<path d="M129.80 325.70A84.3 84.3 0 0 1 170.28 336.06L156.26 361.67A55.1 55.1 0 0 0 129.80 354.90Z" fill="#d3d3d4"/>
<path d="M129.44 358.80A51.2 51.2 0 0 1 153.99 364.88L143.17 385.06A28.3 28.3 0 0 0 129.60 381.70Z" fill="#c41230"/>
<path d="M179.35 341.80A84.3 84.3 0 0 1 206.01 373.97L179.61 386.45A55.1 55.1 0 0 0 162.19 365.42Z" fill="#d3d3d4"/>
<path d="M157.68 371.05A47.9 47.9 0 0 1 172.93 389.15L155.28 397.68A28.3 28.3 0 0 0 146.27 386.99Z" fill="#c41230"/>
<path d="M209.97 383.95A84.3 84.3 0 0 1 212.63 425.65L183.94 420.23A55.1 55.1 0 0 0 182.20 392.97Z" fill="#d3d3d4"/>
<path d="M168.13 397.25A40.4 40.4 0 0 1 169.56 417.15L157.65 415.01A28.3 28.3 0 0 0 156.65 401.07Z" fill="#e28d80"/>
<path d="M209.97 436.05A84.3 84.3 0 0 1 187.61 471.35L167.59 450.10A55.1 55.1 0 0 0 182.20 427.03Z" fill="#d3d3d4"/>
<path d="M168.12 422.16A40.2 40.2 0 0 1 157.62 439.01L149.39 430.43A28.3 28.3 0 0 0 156.78 418.56Z" fill="#e28d80"/>
<path d="M179.35 478.20A84.3 84.3 0 0 1 140.51 493.62L136.80 464.65A55.1 55.1 0 0 0 162.19 454.58Z" fill="#d3d3d4"/>
<path d="M153.54 442.20A40.0 40.0 0 0 1 135.23 449.63L133.64 438.04A28.3 28.3 0 0 0 146.59 432.78Z" fill="#e28d80"/>
<path d="M129.80 494.30A84.3 84.3 0 0 1 89.32 483.94L103.34 458.33A55.1 55.1 0 0 0 129.80 465.10Z" fill="#d3d3d4"/>
<path d="M130.08 449.40A39.4 39.4 0 0 1 111.18 444.72L116.43 434.94A28.3 28.3 0 0 0 130.00 438.30Z" fill="#c9cde3"/>
<path d="M80.25 478.20A84.3 84.3 0 0 1 53.59 446.03L79.99 433.55A55.1 55.1 0 0 0 97.41 454.58Z" fill="#d3d3d4"/>
<path d="M109.25 438.70A35.3 35.3 0 0 1 98.02 425.36L104.32 422.32A28.3 28.3 0 0 0 113.33 433.01Z" fill="#e28d80"/>
<path d="M49.63 436.05A84.3 84.3 0 0 1 46.97 394.35L75.66 399.77A55.1 55.1 0 0 0 77.40 427.03Z" fill="#d3d3d4"/>
<path d="M95.17 421.52A36.5 36.5 0 0 1 93.88 403.54L101.95 404.99A28.3 28.3 0 0 0 102.95 418.93Z" fill="#e28d80"/>
<path d="M49.63 383.95A84.3 84.3 0 0 1 71.99 348.65L92.01 369.90A55.1 55.1 0 0 0 77.40 392.97Z" fill="#d3d3d4"/>
<path d="M96.63 399.48A34.8 34.8 0 0 1 105.71 384.88L110.21 389.57A28.3 28.3 0 0 0 102.82 401.44Z" fill="#e28d80"/>
<path d="M80.25 341.80A84.3 84.3 0 0 1 119.09 326.38L122.80 355.35A55.1 55.1 0 0 0 97.41 365.42Z" fill="#d3d3d4"/>
<path d="M110.51 383.84A32.5 32.5 0 0 1 125.39 377.80L125.96 381.96A28.3 28.3 0 0 0 113.01 387.22Z" fill="#e28d80"/>
<path d="M129.80 347.70A62.3 62.3 0 0 1 159.72 355.35M129.80 340.40A69.6 69.6 0 0 1 163.22 348.95M129.80 333.20A76.8 76.8 0 0 1 166.68 342.64M166.42 359.60A62.3 62.3 0 0 1 186.12 383.38M170.71 353.69A69.6 69.6 0 0 1 192.72 380.26M174.94 347.87A76.8 76.8 0 0 1 199.23 377.18M189.05 390.75A62.3 62.3 0 0 1 191.02 421.57M195.99 388.49A69.6 69.6 0 0 1 198.19 422.92M202.84 386.27A76.8 76.8 0 0 1 205.26 424.26M189.05 429.25A62.3 62.3 0 0 1 172.53 455.34M195.99 431.51A69.6 69.6 0 0 1 177.53 460.65M202.84 433.73A76.8 76.8 0 0 1 182.47 465.89M166.42 460.40A62.3 62.3 0 0 1 137.72 471.80M170.71 466.31A69.6 69.6 0 0 1 138.64 479.04M174.94 472.13A76.8 76.8 0 0 1 139.56 486.18M129.80 472.30A62.3 62.3 0 0 1 99.88 464.65M129.80 479.60A69.6 69.6 0 0 1 96.38 471.05M129.80 486.80A76.8 76.8 0 0 1 92.92 477.36M93.18 460.40A62.3 62.3 0 0 1 73.48 436.62M88.89 466.31A69.6 69.6 0 0 1 66.88 439.74M84.66 472.13A76.8 76.8 0 0 1 60.37 442.82M70.55 429.25A62.3 62.3 0 0 1 68.58 398.43M63.61 431.51A69.6 69.6 0 0 1 61.41 397.08M56.76 433.73A76.8 76.8 0 0 1 54.34 395.74M70.55 390.75A62.3 62.3 0 0 1 87.07 364.66M63.61 388.49A69.6 69.6 0 0 1 82.07 359.35M56.76 386.27A76.8 76.8 0 0 1 77.13 354.11M93.18 359.60A62.3 62.3 0 0 1 121.88 348.20M88.89 353.69A69.6 69.6 0 0 1 120.96 340.96M84.66 347.87A76.8 76.8 0 0 1 120.04 333.82" stroke="#fff" stroke-width="0.9" fill="none"/>
<g fill="#c8102e"><circle cx="133.8" cy="336.2" r="2.2"/><circle cx="136.3" cy="336.5" r="2.2"/><circle cx="139.2" cy="337.1" r="2.2"/><circle cx="143.5" cy="330.4" r="2.2"/><circle cx="145" cy="337.7" r="2.2"/><circle cx="147.9" cy="339.6" r="2.2"/><circle cx="150.2" cy="332.7" r="2.2"/><circle cx="151.7" cy="335.8" r="2.2"/><circle cx="154.6" cy="335.2" r="2.2"/><circle cx="157.5" cy="337.7" r="2.2"/><circle cx="159.4" cy="343.5" r="2.2"/><circle cx="160.4" cy="340" r="2.2"/><circle cx="162.7" cy="341" r="2.2"/><circle cx="178.7" cy="348.1" r="2.2"/><circle cx="177.7" cy="355.4" r="2.2"/><circle cx="179.2" cy="360.2" r="2.2"/><circle cx="190.2" cy="361.2" r="2.2"/><circle cx="186.3" cy="367.3" r="2.2"/><circle cx="181.5" cy="369.8" r="2.2"/><circle cx="181.2" cy="372.7" r="2.2"/><circle cx="183.5" cy="373.7" r="2.2"/><circle cx="185.4" cy="375.6" r="2.2"/><circle cx="186.9" cy="377.5" r="2.2"/><circle cx="188.8" cy="376.2" r="2.2"/><circle cx="190.2" cy="374.2" r="2.2"/><circle cx="193.1" cy="375" r="2.2"/><circle cx="201" cy="390.2" r="2.2"/><circle cx="204.8" cy="392.7" r="2.2"/><circle cx="201" cy="395" r="2.2"/><circle cx="201.9" cy="398.8" r="2.2"/><circle cx="204.8" cy="400.8" r="2.2"/><circle cx="207.7" cy="401.7" r="2.2"/><circle cx="209.6" cy="401.2" r="2.2"/><circle cx="201.5" cy="403.7" r="2.2"/><circle cx="203.8" cy="404.2" r="2.2"/><circle cx="204.8" cy="413.3" r="2.2"/><circle cx="206.7" cy="414.6" r="2.2"/><circle cx="210" cy="416.5" r="2.2"/><circle cx="195.2" cy="436.3" r="2.2"/><circle cx="195.8" cy="438.8" r="2.2"/><circle cx="199.6" cy="442.5" r="2.2"/><circle cx="193.8" cy="445" r="2.2"/><circle cx="196.2" cy="446.5" r="2.2"/><circle cx="188.5" cy="452.7" r="2.2"/><circle cx="182.7" cy="457.5" r="2.2"/><circle cx="142.5" cy="483.1" r="2.2"/><circle cx="144.4" cy="484.4" r="2.2"/><circle cx="146.3" cy="487.3" r="2.2"/><circle cx="148.3" cy="482.5" r="2.2"/><circle cx="150.2" cy="481.2" r="2.2"/><circle cx="151.2" cy="484.4" r="2.2"/><circle cx="152.7" cy="486.3" r="2.2"/><circle cx="154" cy="483.5" r="2.2"/><circle cx="156" cy="479.6" r="2.2"/><circle cx="158.8" cy="477.7" r="2.2"/><circle cx="159.8" cy="481.5" r="2.2"/><circle cx="161.7" cy="476.7" r="2.2"/><circle cx="163.1" cy="479.6" r="2.2"/><circle cx="164.6" cy="475.8" r="2.2"/><circle cx="166.5" cy="477.7" r="2.2"/><circle cx="167.5" cy="480.6" r="2.2"/><circle cx="168.8" cy="474.8" r="2.2"/><circle cx="170" cy="471" r="2.2"/><circle cx="170.4" cy="476.7" r="2.2"/><circle cx="96.9" cy="481.5" r="2.2"/><circle cx="101.2" cy="481.9" r="2.2"/><circle cx="108.5" cy="479.2" r="2.2"/><circle cx="109.8" cy="485.4" r="2.2"/><circle cx="111.7" cy="482.5" r="2.2"/><circle cx="116.2" cy="482.5" r="2.2"/><circle cx="60.8" cy="446.7" r="2.2"/><circle cx="62.7" cy="445.8" r="2.2"/><circle cx="65" cy="444.8" r="2.2"/><circle cx="69.4" cy="450" r="2.2"/><circle cx="67.5" cy="454.4" r="2.2"/><circle cx="71.3" cy="453.5" r="2.2"/><circle cx="71.3" cy="461.2" r="2.2"/><circle cx="70" cy="463.1" r="2.2"/><circle cx="75.2" cy="462.7" r="2.2"/><circle cx="82.3" cy="462.1" r="2.2"/><circle cx="80.4" cy="465" r="2.2"/><circle cx="66.9" cy="400.6" r="2.2"/><circle cx="53.1" cy="418.5" r="2.2"/><circle cx="59.8" cy="419.2" r="2.2"/><circle cx="64.2" cy="418.8" r="2.2"/><circle cx="65.6" cy="421.7" r="2.2"/><circle cx="61.7" cy="424.6" r="2.2"/><circle cx="66.2" cy="424.6" r="2.2"/><circle cx="67.5" cy="365.4" r="2.2"/><circle cx="72.3" cy="362.1" r="2.2"/><circle cx="77.1" cy="362.7" r="2.2"/><circle cx="74.2" cy="366" r="2.2"/><circle cx="75.2" cy="368.8" r="2.2"/><circle cx="70.4" cy="371.2" r="2.2"/><circle cx="116.2" cy="333.5" r="2.2"/><circle cx="97.9" cy="338.1" r="2.2"/><circle cx="92.5" cy="343.8" r="2.2"/><circle cx="101.5" cy="343.3" r="2.2"/><circle cx="89.2" cy="349" r="2.2"/></g>
<g fill="#1d4f8b"><circle cx="142.7" cy="353.5" r="2.2"/><circle cx="189.4" cy="396" r="2.2"/><circle cx="190.8" cy="397.9" r="2.2"/><circle cx="191.9" cy="396.9" r="2.2"/><circle cx="189" cy="406.9" r="2.2"/><circle cx="195.2" cy="416.2" r="2.2"/><circle cx="174.6" cy="445.4" r="2.2"/><circle cx="145" cy="469.6" r="2.2"/><circle cx="145.4" cy="472.3" r="2.2"/><circle cx="153.1" cy="465.2" r="2.2"/><circle cx="154" cy="462.7" r="2.2"/><circle cx="160.4" cy="460" r="2.2"/><circle cx="104" cy="463.3" r="2.2"/><circle cx="106" cy="463.8" r="2.2"/><circle cx="114.6" cy="466.2" r="2.2"/><circle cx="115.6" cy="465.2" r="2.2"/><circle cx="122.7" cy="470.4" r="2.2"/><circle cx="125.2" cy="470" r="2.2"/><circle cx="78.5" cy="447.3" r="2.2"/><circle cx="84.2" cy="445.8" r="2.2"/><circle cx="92.9" cy="453.8" r="2.2"/><circle cx="81.3" cy="372.7" r="2.2"/><circle cx="104" cy="357.7" r="2.2"/></g>
<g font-family='"Liberation Sans", sans-serif' font-size="8.1" fill="#333" text-anchor="middle">
<text transform="translate(153.74 320.65) rotate(15)" y="2.9">GO:0005578</text>
<text transform="translate(201.69 351.79) rotate(51)" y="2.9">GO:0031012</text>
<text transform="translate(222.17 405.16) rotate(87)" y="2.9">GO:0005509</text>
<text transform="translate(207.38 460.38) rotate(123)" y="2.9">GO:0005604</text>
<text transform="translate(162.95 496.36) rotate(159)" y="2.9">GO:0005576</text>
<text transform="translate(105.86 499.35) rotate(195)" y="2.9">GO:0009897</text>
<text transform="translate(57.91 468.21) rotate(231)" y="2.9">GO:0007155</text>
<text transform="translate(37.43 414.84) rotate(267)" y="2.9">GO:0008237</text>
<text transform="translate(52.22 359.62) rotate(303)" y="2.9">GO:0001525</text>
<text transform="translate(96.65 323.64) rotate(339)" y="2.9">GO:0030198</text>
</g>
<defs><linearGradient id="zg" x1="0" x2="1" y1="0" y2="0"><stop offset="0" stop-color="#e3daee"/><stop offset="0.2" stop-color="#fdeee9"/><stop offset="0.55" stop-color="#f4a08c"/><stop offset="1" stop-color="#e21f26"/></linearGradient></defs>
<rect x="45" y="528.8" width="53.7" height="10.7" fill="url(#zg)"/>
<g font-family='"Liberation Sans", sans-serif' fill="#333">
<text x="72" y="525" font-size="7.2" text-anchor="middle">z-score</text>
<text x="49.2" y="548.6" font-size="7.7" text-anchor="middle">Decreasing</text>
<text x="98.4" y="548.6" font-size="7.7" text-anchor="middle">Increasing</text>
<text x="155.5" y="519.3" font-size="7.8" text-anchor="middle">logFC</text>
<text x="122.7" y="536.6" font-size="8.1">Downregulated</text>
<text x="194" y="536.6" font-size="8.1">Upregulated</text>
</g>
<circle cx="116.7" cy="533.8" r="1.9" fill="#1d4f8b"/>
<circle cx="188.6" cy="533.8" r="1.9" fill="#c8102e"/>
<rect x="244.5" y="336.2" width="267.9" height="14.3" fill="#0f5088"/>
<rect x="244.5" y="351.80" width="267.9" height="14.49" fill="#8f9cc6"/>
<rect x="244.5" y="366.24" width="267.9" height="14.49" fill="#cfd4ea"/>
<rect x="244.5" y="380.68" width="267.9" height="14.49" fill="#8f9cc6"/>
<rect x="244.5" y="395.12" width="267.9" height="14.49" fill="#cfd4ea"/>
<rect x="244.5" y="409.56" width="267.9" height="14.49" fill="#8f9cc6"/>
<rect x="244.5" y="424.00" width="267.9" height="14.49" fill="#cfd4ea"/>
<rect x="244.5" y="438.44" width="267.9" height="14.49" fill="#8f9cc6"/>
<rect x="244.5" y="452.88" width="267.9" height="14.49" fill="#cfd4ea"/>
<rect x="244.5" y="467.32" width="267.9" height="14.49" fill="#8f9cc6"/>
<rect x="244.5" y="481.76" width="267.9" height="14.49" fill="#cfd4ea"/>
<rect x="309.0" y="336" width="1" height="161" fill="#fff"/>
<rect x="455.3" y="336" width="1" height="161" fill="#fff"/>
<g font-family='"Liberation Sans", sans-serif' font-size="8.1" fill="#fff" font-weight="bold" text-anchor="middle">
<text x="276.4" y="346.4">ID</text>
<text x="378.9" y="346.4">Description</text>
<text x="484.5" y="346.4">P Value</text>
</g>
<g font-family='"Liberation Sans", sans-serif' font-size="8" fill="#2a2a2a" text-anchor="middle">
<text x="276.4" y="362.32">GO:0005578</text>
<text x="378.9" y="362.32">Proteinaceous extracellular matrix</text>
<text x="484.5" y="362.32">4.45E-10</text>
<text x="276.4" y="376.76">GO:0031012</text>
<text x="378.9" y="376.76">Extracellular matrix</text>
<text x="484.5" y="376.76">1.02E-08</text>
<text x="276.4" y="391.20">GO:0005509</text>
<text x="378.9" y="391.20">Calcium ion binding</text>
<text x="484.5" y="391.20">1.47E-06</text>
<text x="276.4" y="405.64">GO:0005604</text>
<text x="378.9" y="405.64">Basement membrane</text>
<text x="484.5" y="405.64">1.08E-05</text>
<text x="276.4" y="420.08">GO:0005576</text>
<text x="378.9" y="420.08">Extracellular region</text>
<text x="484.5" y="420.08">1.14E-05</text>
<text x="276.4" y="434.52">GO:0009897</text>
<text x="378.9" y="434.52">External side of plasma membrane</text>
<text x="484.5" y="434.52">3.93E-05</text>
<text x="276.4" y="448.96">GO:0007155</text>
<text x="378.9" y="448.96">Cell adhesion</text>
<text x="484.5" y="448.96">1.19E-04</text>
<text x="276.4" y="463.40">GO:0008237</text>
<text x="378.9" y="463.40">Metallopeptidase activity</text>
<text x="484.5" y="463.40">2.26E-04</text>
<text x="276.4" y="477.84">GO:0001525</text>
<text x="378.9" y="477.84">Angiogenesis</text>
<text x="484.5" y="477.84">6.08E-04</text>
<text x="276.4" y="492.28">GO:0030198</text>
<text x="378.9" y="492.28">Extracellular matrix organization</text>
<text x="484.5" y="492.28">0.002059212</text>
</g>
<rect x="58.05" y="589.0" width="17.25" height="40.25" fill="#c8203a"/>
<path d="M66.675 583.3V589.0M62.275 583.3H71.075" stroke="#111" stroke-width="0.85" fill="none"/>
<path d="M66.675 629.25V632.45" stroke="#111" stroke-width="0.8"/>
<text transform="translate(66.675 641.9) scale(0.9 1)" font-family='"Liberation Sans", sans-serif' font-size="8.8" fill="#222" text-anchor="middle">SA</text>
<rect x="84.3" y="607.9" width="17.700000000000003" height="21.35" fill="#11568b"/>
<path d="M93.15 606.1V607.9M88.75 606.1H97.55000000000001" stroke="#111" stroke-width="0.85" fill="none"/>
<path d="M93.15 629.25V632.45" stroke="#111" stroke-width="0.8"/>
<text transform="translate(93.15 641.9) scale(0.9 1)" font-family='"Liberation Sans", sans-serif' font-size="8.8" fill="#222" text-anchor="middle">SS</text>
<g fill="#111"><circle cx="66.5" cy="579.5" r="1.35"/><circle cx="66.5" cy="588.8" r="1.35"/><circle cx="66.5" cy="599" r="1.35"/></g>
<g fill="#111"><rect x="91.75" y="603.15" width="2.5" height="2.5" rx="0.5"/><rect x="91.75" y="606.55" width="2.5" height="2.5" rx="0.5"/><rect x="91.75" y="610.15" width="2.5" height="2.5" rx="0.5"/></g>
<path d="M47.5 567.1V629.25H110" stroke="#111" stroke-width="1.1" fill="none"/>
<path d="M44.5 629.25H47.5" stroke="#111" stroke-width="0.8"/>
<text transform="translate(43.3 632.35) scale(0.93 1)" font-family='"Liberation Sans", sans-serif' font-size="8.8" fill="#222" text-anchor="end">0.0</text>
<path d="M44.5 613.81H47.5" stroke="#111" stroke-width="0.8"/>
<text transform="translate(43.3 616.91) scale(0.93 1)" font-family='"Liberation Sans", sans-serif' font-size="8.8" fill="#222" text-anchor="end">0.2</text>
<path d="M44.5 598.38H47.5" stroke="#111" stroke-width="0.8"/>
<text transform="translate(43.3 601.48) scale(0.93 1)" font-family='"Liberation Sans", sans-serif' font-size="8.8" fill="#222" text-anchor="end">0.4</text>
<path d="M44.5 582.94H47.5" stroke="#111" stroke-width="0.8"/>
<text transform="translate(43.3 586.04) scale(0.93 1)" font-family='"Liberation Sans", sans-serif' font-size="8.8" fill="#222" text-anchor="end">0.6</text>
<path d="M44.5 567.50H47.5" stroke="#111" stroke-width="0.8"/>
<text transform="translate(43.3 570.60) scale(0.93 1)" font-family='"Liberation Sans", sans-serif' font-size="8.8" fill="#222" text-anchor="end">0.8</text>
<path d="M55.1 569.8V566.8H104.6V569.8" stroke="#111" stroke-width="0.9" fill="none"/>
<text x="79.85" y="566.3" font-family='"Liberation Sans", sans-serif' font-size="8" fill="#111" text-anchor="middle" font-weight="bold">*</text>
<text transform="translate(13.8 598.6) rotate(-90) scale(0.85 1)" font-family='"Liberation Sans", sans-serif' font-size="8.8" fill="#222" text-anchor="middle"><tspan font-style="italic">Opn</tspan> expression</text>
<text transform="translate(26.6 598.6) rotate(-90) scale(0.85 1)" font-family='"Liberation Sans", sans-serif' font-size="8.8" fill="#222" text-anchor="middle">(relative to <tspan font-style="italic">Gapdh</tspan>)</text>
<rect x="160.1" y="589.3" width="17.5" height="39.95" fill="#c8203a"/>
<path d="M168.85 583.1V595.7M164.45 583.1H173.25M164.45 595.7H173.25" stroke="#111" stroke-width="0.85" fill="none"/>
<path d="M168.85 629.25V632.45" stroke="#111" stroke-width="0.8"/>
<text transform="translate(168.85 641.9) scale(0.9 1)" font-family='"Liberation Sans", sans-serif' font-size="8.8" fill="#222" text-anchor="middle">SA</text>
<rect x="186.4" y="614.6" width="17.5" height="14.65" fill="#11568b"/>
<path d="M195.15 612.2V617.6M190.75 612.2H199.55M190.75 617.6H199.55" stroke="#111" stroke-width="0.85" fill="none"/>
<path d="M195.15 629.25V632.45" stroke="#111" stroke-width="0.8"/>
<text transform="translate(195.15 641.9) scale(0.9 1)" font-family='"Liberation Sans", sans-serif' font-size="8.8" fill="#222" text-anchor="middle">SS</text>
<g fill="#111"><circle cx="168.7" cy="576.6" r="1.35"/><circle cx="168.7" cy="580.9" r="1.35"/><circle cx="168.7" cy="597.3" r="1.35"/><circle cx="168.7" cy="602.8" r="1.35"/></g>
<g fill="#111"><rect x="188.85" y="609.65" width="2.5" height="2.5" rx="0.5"/><rect x="198.95" y="610.95" width="2.5" height="2.5" rx="0.5"/><rect x="193.85" y="612.55" width="2.5" height="2.5" rx="0.5"/><rect x="193.85" y="620.95" width="2.5" height="2.5" rx="0.5"/></g>
<path d="M151.7 567.1V629.25H211.25" stroke="#111" stroke-width="1.1" fill="none"/>
<path d="M148.7 629.25H151.7" stroke="#111" stroke-width="0.8"/>
<text transform="translate(145.3 632.35) scale(0.93 1)" font-family='"Liberation Sans", sans-serif' font-size="8.8" fill="#222" text-anchor="end">0.0</text>
<path d="M148.7 608.67H151.7" stroke="#111" stroke-width="0.8"/>
<text transform="translate(145.3 611.77) scale(0.93 1)" font-family='"Liberation Sans", sans-serif' font-size="8.8" fill="#222" text-anchor="end">0.5</text>
<path d="M148.7 588.08H151.7" stroke="#111" stroke-width="0.8"/>
<text transform="translate(145.3 591.18) scale(0.93 1)" font-family='"Liberation Sans", sans-serif' font-size="8.8" fill="#222" text-anchor="end">1.0</text>
<path d="M148.7 567.50H151.7" stroke="#111" stroke-width="0.8"/>
<text transform="translate(145.3 570.60) scale(0.93 1)" font-family='"Liberation Sans", sans-serif' font-size="8.8" fill="#222" text-anchor="end">1.5</text>
<path d="M155 571V568H207V571" stroke="#111" stroke-width="0.9" fill="none"/>
<text x="181.00" y="567.5" font-family='"Liberation Sans", sans-serif' font-size="8" fill="#111" text-anchor="middle" font-weight="bold">**</text>
<text transform="translate(118.8 598.6) rotate(-90) scale(0.85 1)" font-family='"Liberation Sans", sans-serif' font-size="8.8" fill="#222" text-anchor="middle"><tspan font-style="italic">Vcam1</tspan> expression</text>
<text transform="translate(129.8 598.6) rotate(-90) scale(0.85 1)" font-family='"Liberation Sans", sans-serif' font-size="8.8" fill="#222" text-anchor="middle">(relative to <tspan font-style="italic">Gapdh</tspan>)</text>
<rect x="257.1" y="592.6" width="17.299999999999955" height="36.65" fill="#c8203a"/>
<path d="M265.75 584.5V600.4M261.35 584.5H270.15M261.35 600.4H270.15" stroke="#111" stroke-width="0.85" fill="none"/>
<path d="M265.75 629.25V632.45" stroke="#111" stroke-width="0.8"/>
<text transform="translate(265.75 641.9) scale(0.9 1)" font-family='"Liberation Sans", sans-serif' font-size="8.8" fill="#222" text-anchor="middle">SA</text>
<rect x="283.4" y="613.2" width="17.600000000000023" height="16.05" fill="#11568b"/>
<path d="M292.2 611.4V614.9M287.8 611.4H296.59999999999997M287.8 614.9H296.59999999999997" stroke="#111" stroke-width="0.85" fill="none"/>
<path d="M292.2 629.25V632.45" stroke="#111" stroke-width="0.8"/>
<text transform="translate(292.2 641.9) scale(0.9 1)" font-family='"Liberation Sans", sans-serif' font-size="8.8" fill="#222" text-anchor="middle">SS</text>
<g fill="#111"><circle cx="265.6" cy="575.4" r="1.35"/><circle cx="265.6" cy="584.5" r="1.35"/><circle cx="265.6" cy="598.3" r="1.35"/><circle cx="265.6" cy="612.8" r="1.35"/></g>
<g fill="#111"><rect x="285.95" y="610.15" width="2.5" height="2.5" rx="0.5"/><rect x="290.85" y="610.15" width="2.5" height="2.5" rx="0.5"/><rect x="295.75" y="610.15" width="2.5" height="2.5" rx="0.5"/><rect x="290.85" y="617.35" width="2.5" height="2.5" rx="0.5"/></g>
<path d="M248.9 567.1V629.25H308.75" stroke="#111" stroke-width="1.1" fill="none"/>
<path d="M245.9 629.25H248.9" stroke="#111" stroke-width="0.8"/>
<text transform="translate(242.8 632.35) scale(0.93 1)" font-family='"Liberation Sans", sans-serif' font-size="8.8" fill="#222" text-anchor="end">0</text>
<path d="M245.9 613.81H248.9" stroke="#111" stroke-width="0.8"/>
<text transform="translate(242.8 616.91) scale(0.93 1)" font-family='"Liberation Sans", sans-serif' font-size="8.8" fill="#222" text-anchor="end">1</text>
<path d="M245.9 598.38H248.9" stroke="#111" stroke-width="0.8"/>
<text transform="translate(242.8 601.48) scale(0.93 1)" font-family='"Liberation Sans", sans-serif' font-size="8.8" fill="#222" text-anchor="end">2</text>
<path d="M245.9 582.94H248.9" stroke="#111" stroke-width="0.8"/>
<text transform="translate(242.8 586.04) scale(0.93 1)" font-family='"Liberation Sans", sans-serif' font-size="8.8" fill="#222" text-anchor="end">3</text>
<path d="M245.9 567.50H248.9" stroke="#111" stroke-width="0.8"/>
<text transform="translate(242.8 570.60) scale(0.93 1)" font-family='"Liberation Sans", sans-serif' font-size="8.8" fill="#222" text-anchor="end">4</text>
<path d="M252 571V568H303.6V571" stroke="#111" stroke-width="0.9" fill="none"/>
<text x="277.80" y="567.5" font-family='"Liberation Sans", sans-serif' font-size="8" fill="#111" text-anchor="middle" font-weight="bold">*</text>
<text transform="translate(220.60000000000002 598.6) rotate(-90) scale(0.85 1)" font-family='"Liberation Sans", sans-serif' font-size="8.8" fill="#222" text-anchor="middle"><tspan font-style="italic">Angpt1</tspan> expression</text>
<text transform="translate(231.20000000000002 598.6) rotate(-90) scale(0.85 1)" font-family='"Liberation Sans", sans-serif' font-size="8.8" fill="#222" text-anchor="middle">(relative to <tspan font-style="italic">Gapdh</tspan>)</text>
<rect x="360.1" y="582.6" width="17.5" height="46.65" fill="#c8203a"/>
<path d="M368.85 580.8V584.3M364.45000000000005 580.8H373.25M364.45000000000005 584.3H373.25" stroke="#111" stroke-width="0.85" fill="none"/>
<path d="M368.85 629.25V632.45" stroke="#111" stroke-width="0.8"/>
<text transform="translate(368.85 641.9) scale(0.9 1)" font-family='"Liberation Sans", sans-serif' font-size="8.8" fill="#222" text-anchor="middle">SA</text>
<rect x="386.6" y="602.9" width="17.599999999999966" height="26.35" fill="#11568b"/>
<path d="M395.4 597V608.2M391.0 597H399.79999999999995M391.0 608.2H399.79999999999995" stroke="#111" stroke-width="0.85" fill="none"/>
<path d="M395.4 629.25V632.45" stroke="#111" stroke-width="0.8"/>
<text transform="translate(395.4 641.9) scale(0.9 1)" font-family='"Liberation Sans", sans-serif' font-size="8.8" fill="#222" text-anchor="middle">SS</text>
<g fill="#111"><circle cx="368.7" cy="578.4" r="1.35"/><circle cx="366" cy="584.6" r="1.35"/><circle cx="371.7" cy="584.2" r="1.35"/><circle cx="368.3" cy="582" r="1.35"/></g>
<g fill="#111"><rect x="391.65" y="593.95" width="2.5" height="2.5" rx="0.5"/><rect x="396.65" y="591.55" width="2.5" height="2.5" rx="0.5"/><rect x="393.95" y="608.15" width="2.5" height="2.5" rx="0.5"/><rect x="393.95" y="612.15" width="2.5" height="2.5" rx="0.5"/></g>
<path d="M351.6 567.1V629.25H411.25" stroke="#111" stroke-width="1.1" fill="none"/>
<path d="M348.6 629.25H351.6" stroke="#111" stroke-width="0.8"/>
<text transform="translate(345.3 632.35) scale(0.93 1)" font-family='"Liberation Sans", sans-serif' font-size="8.8" fill="#222" text-anchor="end">0.0</text>
<path d="M348.6 608.67H351.6" stroke="#111" stroke-width="0.8"/>
<text transform="translate(345.3 611.77) scale(0.93 1)" font-family='"Liberation Sans", sans-serif' font-size="8.8" fill="#222" text-anchor="end">0.5</text>
<path d="M348.6 588.08H351.6" stroke="#111" stroke-width="0.8"/>
<text transform="translate(345.3 591.18) scale(0.93 1)" font-family='"Liberation Sans", sans-serif' font-size="8.8" fill="#222" text-anchor="end">1.0</text>
<path d="M348.6 567.50H351.6" stroke="#111" stroke-width="0.8"/>
<text transform="translate(345.3 570.60) scale(0.93 1)" font-family='"Liberation Sans", sans-serif' font-size="8.8" fill="#222" text-anchor="end">1.5</text>
<path d="M355 571V568H406.8V571" stroke="#111" stroke-width="0.9" fill="none"/>
<text x="380.90" y="567.5" font-family='"Liberation Sans", sans-serif' font-size="8" fill="#111" text-anchor="middle" font-weight="bold">**</text>
<text transform="translate(318.8 598.6) rotate(-90) scale(0.85 1)" font-family='"Liberation Sans", sans-serif' font-size="8.8" fill="#222" text-anchor="middle"><tspan font-style="italic">Scf</tspan> expression</text>
<text transform="translate(329.40000000000003 598.6) rotate(-90) scale(0.85 1)" font-family='"Liberation Sans", sans-serif' font-size="8.8" fill="#222" text-anchor="middle">(relative to <tspan font-style="italic">Gapdh</tspan>)</text>
<rect x="460.8" y="589.6" width="17.19999999999999" height="39.65" fill="#c8203a"/>
<path d="M469.4 586.7V592.6M465.0 586.7H473.79999999999995M465.0 592.6H473.79999999999995" stroke="#111" stroke-width="0.85" fill="none"/>
<path d="M469.4 629.25V632.45" stroke="#111" stroke-width="0.8"/>
<text transform="translate(469.4 641.9) scale(0.9 1)" font-family='"Liberation Sans", sans-serif' font-size="8.8" fill="#222" text-anchor="middle">SA</text>
<rect x="487" y="609.2" width="17.399999999999977" height="20.05" fill="#11568b"/>
<path d="M495.7 605.5V612M491.3 605.5H500.09999999999997M491.3 612H500.09999999999997" stroke="#111" stroke-width="0.85" fill="none"/>
<path d="M495.7 629.25V632.45" stroke="#111" stroke-width="0.8"/>
<text transform="translate(495.7 641.9) scale(0.9 1)" font-family='"Liberation Sans", sans-serif' font-size="8.8" fill="#222" text-anchor="middle">SS</text>
<g fill="#111"><circle cx="469.4" cy="581.6" r="1.35"/><circle cx="466.5" cy="591.4" r="1.35"/><circle cx="472.2" cy="591.4" r="1.35"/><circle cx="469.4" cy="595.7" r="1.35"/></g>
<g fill="#111"><rect x="491.85" y="603.85" width="2.5" height="2.5" rx="0.5"/><rect x="496.85" y="601.55" width="2.5" height="2.5" rx="0.5"/><rect x="494.05" y="609.35" width="2.5" height="2.5" rx="0.5"/><rect x="494.25" y="615.65" width="2.5" height="2.5" rx="0.5"/></g>
<path d="M452 567.1V629.25H513.5" stroke="#111" stroke-width="1.1" fill="none"/>
<path d="M449 629.25H452" stroke="#111" stroke-width="0.8"/>
<text transform="translate(446.5 632.35) scale(0.93 1)" font-family='"Liberation Sans", sans-serif' font-size="8.8" fill="#222" text-anchor="end">0</text>
<path d="M449 613.81H452" stroke="#111" stroke-width="0.8"/>
<text transform="translate(446.5 616.91) scale(0.93 1)" font-family='"Liberation Sans", sans-serif' font-size="8.8" fill="#222" text-anchor="end">5</text>
<path d="M449 598.38H452" stroke="#111" stroke-width="0.8"/>
<text transform="translate(446.5 601.48) scale(0.93 1)" font-family='"Liberation Sans", sans-serif' font-size="8.8" fill="#222" text-anchor="end">10</text>
<path d="M449 582.94H452" stroke="#111" stroke-width="0.8"/>
<text transform="translate(446.5 586.04) scale(0.93 1)" font-family='"Liberation Sans", sans-serif' font-size="8.8" fill="#222" text-anchor="end">15</text>
<path d="M449 567.50H452" stroke="#111" stroke-width="0.8"/>
<text transform="translate(446.5 570.60) scale(0.93 1)" font-family='"Liberation Sans", sans-serif' font-size="8.8" fill="#222" text-anchor="end">20</text>
<path d="M455.4 571V568H507.3V571" stroke="#111" stroke-width="0.9" fill="none"/>
<text x="481.35" y="567.5" font-family='"Liberation Sans", sans-serif' font-size="8" fill="#111" text-anchor="middle" font-weight="bold">**</text>
<text transform="translate(419.8 598.6) rotate(-90) scale(0.85 1)" font-family='"Liberation Sans", sans-serif' font-size="8.8" fill="#222" text-anchor="middle"><tspan font-style="italic">Cxcl12</tspan> expression</text>
<text transform="translate(431.6 598.6) rotate(-90) scale(0.85 1)" font-family='"Liberation Sans", sans-serif' font-size="8.8" fill="#222" text-anchor="middle">(relative to <tspan font-style="italic">Gapdh</tspan>)</text>
<path d="M0.55 0.45H519.4V649.3H0.55Z" stroke="#1a1a1a" stroke-width="1.2" fill="none"/>
</svg>
</body></html>
